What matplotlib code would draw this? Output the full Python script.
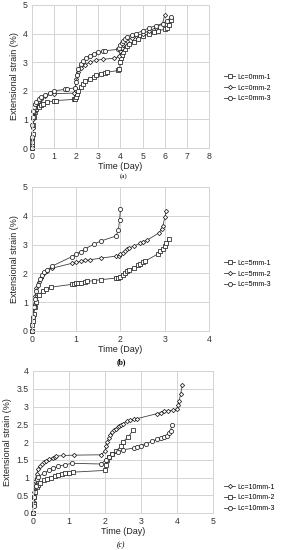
import matplotlib
matplotlib.use("Agg")
import matplotlib.pyplot as plt

plt.rcParams['font.family'] = ['Liberation Sans', 'DejaVu Sans']

# ---------------- Panel (a): Lc = 0 mm ----------------
a_labels = ["Lc=0mm-1", "Lc=0mm-2", "Lc=0mm-3"]
a1_t = [0, 0.01, 0.02, 0.04, 0.06, 0.1, 0.15, 0.2, 0.3, 0.4, 0.5, 0.7, 1.0, 1.1, 1.9, 1.95, 2.0, 2.05, 2.1, 2.2, 2.3, 2.4, 2.6, 2.8, 2.9, 3.1, 3.3, 3.4, 3.9,
        3.95, 4.0, 4.03, 4.06, 4.1, 4.2, 4.3, 4.4, 4.6, 4.8, 5.0, 5.3, 5.5, 5.7, 6.0, 6.1, 6.2, 6.3]
a1_y = [0, 0.1, 0.2, 0.5, 0.8, 1.1, 1.25, 1.35, 1.45, 1.5, 1.55, 1.6, 1.65, 1.66, 1.7, 1.72, 1.8, 1.9, 2.0, 2.15, 2.25, 2.35, 2.42, 2.5, 2.55, 2.58, 2.62, 2.65, 2.71,
        2.75, 3.0, 3.15, 3.25, 3.35, 3.45, 3.55, 3.62, 3.72, 3.8, 3.9, 4.0, 4.05, 4.1, 4.15, 4.2, 4.3, 4.48]
a2_t = [0, 0.01, 0.03, 0.05, 0.08, 0.12, 0.2, 0.3, 0.4, 0.6, 1.0, 1.9, 1.95, 2.0, 2.05, 2.1, 2.2, 2.4, 2.6, 2.9, 3.2, 3.7, 3.95,
        4.0, 4.05, 4.1, 4.2, 4.3, 4.5, 4.7, 5.0, 5.3, 5.6, 5.9, 6.0]
a2_y = [0, 0.3, 0.7, 1.0, 1.25, 1.4, 1.55, 1.65, 1.72, 1.82, 1.9, 1.92, 2.1, 2.4, 2.55, 2.65, 2.78, 2.9, 3.0, 3.07, 3.1, 3.14, 3.2,
        3.4, 3.5, 3.6, 3.68, 3.75, 3.85, 3.92, 4.0, 4.1, 4.2, 4.35, 4.65]
a3_t = [0, 0.01, 0.02, 0.04, 0.06, 0.1, 0.15, 0.2, 0.3, 0.4, 0.6, 0.8, 1.0, 1.5, 1.6, 1.95, 2.0, 2.05, 2.1, 2.2, 2.3, 2.45, 2.6, 2.8, 3.0, 3.2, 3.3, 3.9,
        3.95, 4.0, 4.05, 4.1, 4.2, 4.3, 4.5, 4.7, 5.0, 5.3, 5.6, 5.9, 6.1, 6.3]
a3_y = [0, 0.4, 0.8, 1.1, 1.3, 1.45, 1.55, 1.62, 1.72, 1.78, 1.85, 1.92, 2.0, 2.05, 2.07, 2.1, 2.3, 2.55, 2.75, 2.95, 3.05, 3.15, 3.22, 3.3, 3.35, 3.38, 3.4, 3.45,
        3.5, 3.6, 3.68, 3.75, 3.82, 3.88, 3.95, 4.0, 4.1, 4.2, 4.28, 4.35, 4.45, 4.58]

# ---------------- Panel (b): Lc = 5 mm ----------------
b_labels = ["Lc=5mm-1", "Lc=5mm-2", "Lc=5mm-3"]
b1_t = [0, 0.01, 0.02, 0.04, 0.07, 0.1, 0.15, 0.25, 0.32, 0.42, 0.9, 0.95, 1.0, 1.05, 1.1, 1.2, 1.25, 1.4, 1.55, 1.9, 1.95, 2.0,
        2.05, 2.1, 2.15, 2.2, 2.3, 2.4, 2.45, 2.5, 2.55, 2.85, 2.9, 2.95, 3.0, 3.03, 3.1]
b1_y = [0, 0.2, 0.35, 0.6, 0.85, 1.0, 1.25, 1.38, 1.45, 1.52, 1.62, 1.63, 1.65, 1.66, 1.67, 1.7, 1.72, 1.75, 1.78, 1.84, 1.85, 1.87,
        1.95, 2.02, 2.08, 2.13, 2.2, 2.28, 2.33, 2.38, 2.42, 2.68, 2.78, 2.85, 2.95, 3.05, 3.2]
b2_t = [0, 0.02, 0.04, 0.07, 0.1, 0.15, 0.2, 0.27, 0.35, 0.45, 0.9, 1.0, 1.1, 1.2, 1.3, 1.55, 1.9, 1.97, 2.0, 2.05, 2.1, 2.15,
        2.2, 2.3, 2.45, 2.5, 2.6, 2.88, 2.93, 2.96, 3.0, 3.03]
b2_y = [0, 0.5, 0.9, 1.2, 1.5, 1.7, 1.85, 2.0, 2.1, 2.18, 2.35, 2.38, 2.42, 2.45, 2.47, 2.53, 2.6, 2.62, 2.66, 2.72, 2.78, 2.83,
        2.88, 2.95, 3.05, 3.1, 3.15, 3.42, 3.55, 3.65, 3.95, 4.15]
b3_t = [0, 0.02, 0.04, 0.07, 0.1, 0.14, 0.18, 0.22, 0.28, 0.35, 0.45, 0.9, 1.0, 1.1, 1.2, 1.4, 1.55, 1.9, 1.95, 1.98, 2.0]
b3_y = [0, 0.5, 0.85, 1.1, 1.4, 1.6, 1.8, 1.95, 2.05, 2.12, 2.25, 2.58, 2.68, 2.75, 2.85, 3.02, 3.12, 3.3, 3.5, 3.85, 4.25]

# ---------------- Panel (c): Lc = 10 mm ----------------
c_labels = ["Lc=10mm-1", "Lc=10mm-2", "Lc=10mm-3"]
c1_t = [0, 0.02, 0.04, 0.06, 0.1, 0.15, 0.2, 0.25, 0.3, 0.35, 0.45, 0.55, 0.6, 0.65, 0.83, 1.15, 1.9,
        2.0, 2.03, 2.06, 2.1, 2.15, 2.2, 2.25, 2.3, 2.35, 2.4, 2.45, 2.5, 2.6, 2.7, 2.8, 2.9, 3.45, 3.55, 3.65, 3.75, 3.9,
        4.0, 4.03, 4.06, 4.1, 4.15]
c1_y = [0, 0.3, 0.6, 0.9, 1.1, 1.25, 1.32, 1.38, 1.43, 1.47, 1.52, 1.56, 1.58, 1.6, 1.62, 1.63, 1.64,
        1.75, 1.9, 2.0, 2.1, 2.2, 2.28, 2.33, 2.38, 2.42, 2.45, 2.48, 2.52, 2.58, 2.62, 2.64, 2.66, 2.8, 2.83, 2.86, 2.88, 2.9,
        2.93, 3.05, 3.15, 3.35, 3.6]
c2_t = [0, 0.02, 0.04, 0.06, 0.1, 0.15, 0.2, 0.3, 0.4, 0.5, 0.6, 0.7, 0.8, 0.9, 1.0, 1.1, 2.0,
        2.02, 2.05, 2.1, 2.2, 2.3, 2.45, 2.5, 2.65, 2.78]
c2_y = [0, 0.25, 0.45, 0.6, 0.72, 0.8, 0.85, 0.92, 0.97, 1.0, 1.04, 1.07, 1.1, 1.12, 1.13, 1.15, 1.2,
        1.35, 1.5, 1.58, 1.65, 1.75, 1.88, 2.0, 2.15, 2.33]
c3_t = [0, 0.02, 0.04, 0.07, 0.1, 0.15, 0.3, 0.45, 0.55, 0.7, 0.9, 1.08, 1.9, 2.02, 2.1, 2.2, 2.35, 2.5,
        2.8, 2.9, 3.0, 3.15, 3.3, 3.45, 3.55, 3.65, 3.72, 3.78, 3.82, 3.86]
c3_y = [0, 0.2, 0.45, 0.75, 0.95, 1.02, 1.12, 1.2, 1.26, 1.32, 1.36, 1.4, 1.38, 1.5, 1.58, 1.65, 1.72, 1.78,
        1.83, 1.86, 1.9, 1.95, 2.02, 2.08, 2.1, 2.14, 2.18, 2.25, 2.32, 2.47]

W, H = 281, 550
fig = plt.figure(figsize=(W / 100, H / 100), dpi=100)

GRID = '#d4d4d4'
LINE = '#404040'


def px_axes(left, top, right, bottom):
    return fig.add_axes([left / W, 1 - bottom / H, (right - left) / W, (bottom - top) / H])


def style(ax, xmax, ymax, ystep, yfmt):
    ax.set_xlim(0, xmax)
    ax.set_ylim(0, ymax)
    ax.set_xticks(range(0, xmax + 1))
    yt = [i * ystep for i in range(int(round(ymax / ystep)) + 1)]
    ax.set_yticks(yt)
    ax.set_yticklabels([yfmt(v) for v in yt])
    ax.grid(True, color=GRID, linewidth=0.7)
    ax.set_axisbelow(True)
    for s in ax.spines.values():
        s.set_color(GRID)
        s.set_linewidth(0.7)
    ax.tick_params(length=0, labelsize=6.3, colors='#333333', pad=3)
    ax.set_xlabel("Time (Day)", fontsize=6.5, color='#222222', labelpad=0.5)
    ax.set_ylabel("Extensional strain (%)", fontsize=6.5, color='#222222', labelpad=3)


def plot_series(ax, t, y, marker, ms, label):
    ax.plot(t, y, color=LINE, linewidth=0.6, marker=marker, markersize=ms,
            markerfacecolor='white', markeredgecolor='#202020', markeredgewidth=0.55,
            label=label, clip_on=False)


def legend(ax, ycenter):
    ax.legend(loc='center left', bbox_to_anchor=(224 / W, 1 - ycenter / H),
              bbox_transform=fig.transFigure, frameon=False, fontsize=5,
              handlelength=1.6, handletextpad=0.3, labelspacing=0.55, borderpad=0,
              borderaxespad=0)


# Panel (a)
axa = px_axes(32, 5, 209, 148)
plot_series(axa, a1_t, a1_y, 's', 3.0, a_labels[0])
plot_series(axa, a2_t, a2_y, 'D', 2.2, a_labels[1])
plot_series(axa, a3_t, a3_y, 'o', 3.0, a_labels[2])
style(axa, 8, 5, 1, lambda v: f"{v:g}")
legend(axa, 88)
fig.text(124 / W, 1 - 176 / H, "(a)", ha='center', va='center', fontsize=5,
         family='Liberation Serif')

# Panel (b)
axb = px_axes(32, 187, 209, 331)
plot_series(axb, b1_t, b1_y, 's', 3.0, b_labels[0])
plot_series(axb, b2_t, b2_y, 'D', 2.2, b_labels[1])
plot_series(axb, b3_t, b3_y, 'o', 3.0, b_labels[2])
style(axb, 4, 5, 1, lambda v: f"{v:g}")
legend(axb, 274)
fig.text(121 / W, 1 - 362 / H, "(b)", ha='center', va='center', fontsize=5.5,
         family='Liberation Serif', weight='bold')

# Panel (c)
axc = px_axes(33, 371, 213, 513)
plot_series(axc, c1_t, c1_y, 'D', 2.2, c_labels[0])
plot_series(axc, c2_t, c2_y, 's', 3.0, c_labels[1])
plot_series(axc, c3_t, c3_y, 'o', 3.0, c_labels[2])
style(axc, 5, 4, 0.5, lambda v: f"{v:g}")
legend(axc, 498)
fig.text(121 / W, 1 - 545 / H, "(c)", ha='center', va='center', fontsize=5.5,
         family='Liberation Serif', style='italic')

fig.savefig("out.png", dpi=100)
